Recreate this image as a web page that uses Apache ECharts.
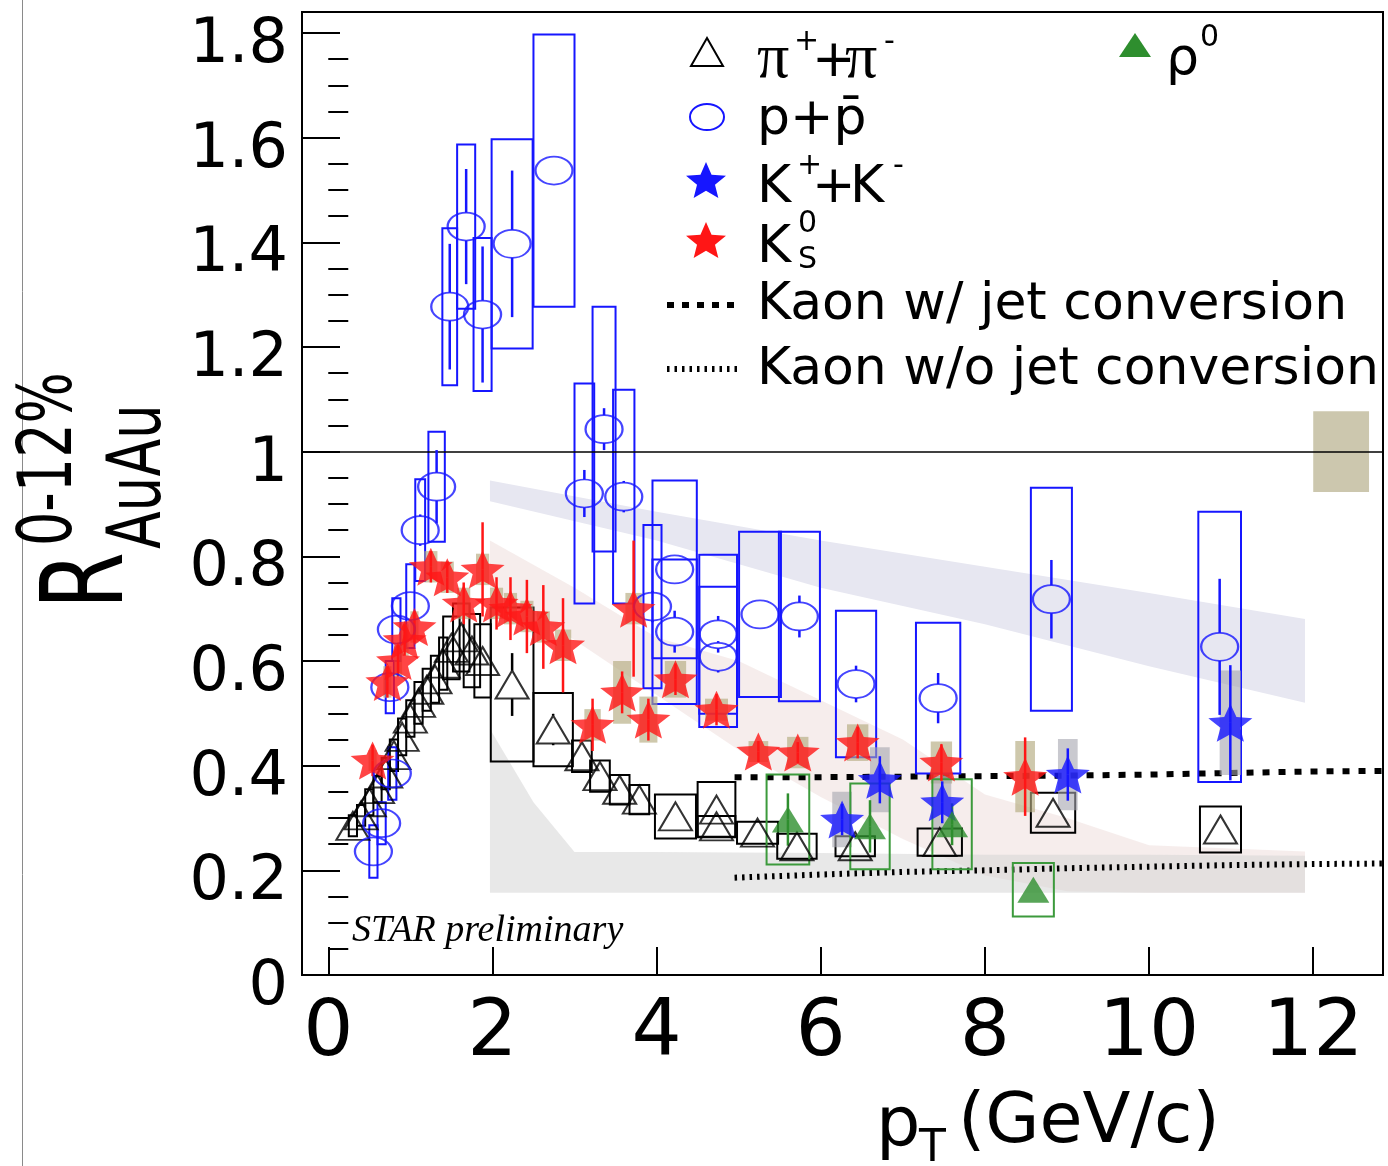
<!DOCTYPE html>
<html>
<head>
<meta charset="utf-8">
<script src="https://cdn.jsdelivr.net/npm/echarts@6/dist/echarts.min.js"></script>
<style>html,body{margin:0;padding:0;background:#fff;}#c{width:1388px;height:1166px;}</style>
</head>
<body>
<div id="c"></div>
<script>
// ================= DATA =================
const xTickVals = [0, 2, 4, 6, 8, 10, 12];
const yTickVals = [0, 0.2, 0.4, 0.6, 0.8, 1, 1.2, 1.4, 1.6, 1.8];

// pi+ + pi-  (open triangles, black open boxes)
const pionX    = [0.30,0.40,0.50,0.60,0.70,0.80,0.90,1.00,1.10,1.20,1.30,1.40,1.50,1.62,1.75,1.88,2.24,2.74,3.09,3.31,3.55,3.79,4.23,4.73,4.73,5.23,5.71,6.42,7.45,8.83,10.87];
const pionY    = [0.285,0.305,0.33,0.355,0.385,0.42,0.455,0.49,0.52,0.545,0.565,0.595,0.625,0.645,0.62,0.60,0.555,0.469,0.418,0.38,0.354,0.335,0.303,0.316,0.284,0.272,0.246,0.246,0.254,0.31,0.278];
const pionStat = [0.005,0.005,0.005,0.005,0.005,0.005,0.005,0.005,0.005,0.005,0.008,0.01,0.01,0.015,0.02,0.02,0.06,0.03,0.01,0.01,0.01,0.01,0.01,0.01,0.01,0.01,0.01,0.01,0.01,0.015,0.02];
const pionSys  = [0.02,0.02,0.025,0.025,0.03,0.03,0.035,0.035,0.04,0.04,0.045,0.05,0.06,0.065,0.07,0.07,0.147,0.07,0.03,0.03,0.028,0.028,0.042,0.053,0.02,0.021,0.024,0.019,0.026,0.038,0.044];
const pionBinHalf = [0.05,0.05,0.05,0.05,0.05,0.05,0.05,0.05,0.05,0.05,0.05,0.05,0.1,0.1,0.1,0.1,0.26,0.24,0.12,0.12,0.12,0.12,0.25,0.23,0.23,0.25,0.24,0.24,0.27,0.27,0.25];

// p + pbar (open circles, blue open boxes)
const protonX    = [0.55,0.65,0.78,0.75,0.83,1.0,1.12,1.32,1.48,1.68,1.88,2.24,2.75,3.12,3.36,3.6,3.95,4.22,4.22,4.75,4.75,5.26,5.74,6.43,7.43,8.81,10.86];
const protonY    = [0.236,0.29,0.385,0.55,0.66,0.705,0.85,0.933,1.277,1.43,1.262,1.397,1.537,0.92,1.043,0.914,0.704,0.775,0.656,0.651,0.608,0.689,0.685,0.556,0.529,0.718,0.627];
const protonStat = [0.015,0.015,0.02,0.02,0.02,0.02,0.03,0.07,0.12,0.11,0.13,0.14,0.02,0.045,0.04,0.03,0.03,0.02,0.04,0.035,0.03,0.02,0.04,0.035,0.048,0.075,0.13];
const protonSys  = [0.05,0.04,0.05,0.05,0.06,0.08,0.097,0.105,0.15,0.157,0.146,0.2,0.26,0.21,0.234,0.204,0.156,0.17,0.138,0.152,0.134,0.158,0.162,0.14,0.144,0.213,0.258];
const protonBinHalf = [0.05,0.05,0.05,0.05,0.05,0.05,0.06,0.1,0.09,0.11,0.11,0.25,0.25,0.12,0.14,0.13,0.11,0.27,0.27,0.23,0.23,0.255,0.25,0.245,0.27,0.25,0.26];

// K0S (red stars, tan filled boxes)
const k0sX    = [0.54,0.72,0.85,0.93,1.05,1.25,1.45,1.65,1.88,2.05,2.22,2.42,2.62,2.86,3.22,3.58,3.72,3.9,4.23,4.73,5.24,5.72,6.45,7.47,8.49];
const k0sY    = [0.41,0.56,0.60,0.64,0.665,0.78,0.76,0.71,0.775,0.71,0.70,0.685,0.665,0.63,0.478,0.54,0.70,0.488,0.565,0.507,0.427,0.425,0.444,0.406,0.379];
const k0sStat = [0.03,0.03,0.03,0.03,0.03,0.03,0.03,0.04,0.09,0.05,0.06,0.07,0.08,0.09,0.05,0.04,0.13,0.04,0.03,0.03,0.02,0.02,0.03,0.035,0.075];
const k0sSys  = [0.02,0.03,0.03,0.03,0.03,0.03,0.03,0.03,0.03,0.03,0.03,0.03,0.03,0.03,0.03,0.06,0.03,0.044,0.035,0.021,0.02,0.03,0.035,0.04,0.068];
const k0sBinHalf = [0.05,0.05,0.05,0.05,0.05,0.08,0.08,0.08,0.08,0.08,0.08,0.08,0.08,0.1,0.1,0.11,0.1,0.11,0.13,0.14,0.12,0.13,0.13,0.13,0.12];

// K+ + K- (blue stars, grey filled boxes)
const kchX    = [6.26,6.72,7.48,9.01,10.99];
const kchY    = [0.297,0.373,0.33,0.383,0.482];
const kchStat = [0.03,0.045,0.04,0.05,0.11];
const kchSys  = [0.053,0.062,0.05,0.068,0.1];
const kchBinHalf = [0.12,0.12,0.11,0.12,0.13];

// rho0 (green filled triangles, green open boxes)
const rhoX    = [5.6,6.6,7.6,8.59];
const rhoY    = [0.297,0.284,0.288,0.163];
const rhoStat = [0.05,0.05,0.04,0.0];
const rhoSys  = [0.086,0.082,0.086,0.051];
const rhoBinHalf = [0.26,0.24,0.24,0.25];

// theory bands
const blueBandX  = [1.97,4,6,8,10,11.9];
const blueBandLo = [0.905,0.83,0.74,0.67,0.59,0.52];
const blueBandHi = [0.945,0.885,0.83,0.78,0.73,0.68];
const pinkBandX  = [1.97,3,4,5,6,7,8,9,10,11.9];
const pinkBandLo = [0.74,0.64,0.535,0.43,0.34,0.26,0.19,0.16,0.157,0.157];
const pinkBandHi = [0.83,0.74,0.645,0.6,0.525,0.45,0.345,0.3,0.248,0.236];
const grayBandX  = [1.97,2.5,3.0,4,6,8,10,11.9];
const grayBandLo = [0.157,0.157,0.157,0.157,0.157,0.157,0.157,0.157];
const grayBandHi = [0.47,0.33,0.235,0.235,0.233,0.23,0.23,0.228];

// theory curves
const kaonCurveX   = [4.95,6,7,8,9,10,11,12,12.85];
const kaonJetY     = [0.378,0.378,0.379,0.38,0.381,0.383,0.386,0.389,0.39];
const kaonNoJetY   = [0.186,0.192,0.197,0.2,0.204,0.207,0.21,0.212,0.213];

// normalization uncertainty
const normX = [12.34], normY = [1], normErr = [0.077], normHalf = [0.34];

// ================= HELPERS =================
const BLUE = '#1616ff', RED = '#ff1616', GREEN = '#2e8e2e';
const STAR = 'path://M50,0 L63.23,31.8 L97.55,34.55 L71.4,56.95 L79.39,90.45 L50,72.5 L20.61,90.45 L28.6,56.95 L2.45,34.55 L36.77,31.8 Z';
const ELLIPSE = 'path://M1,0 A1,1 0 1 1 -1,0 A1,1 0 1 1 1,0 Z';

function zip(...arrs) { return arrs[0].map((_, i) => arrs.map(a => a[i])); }

function bandSeries(name, xs, lo, hi, color, z) {
  return {
    type: 'custom', name, z, silent: true, clip: true,
    data: zip(xs, lo, hi), encode: { x: 0, y: [1, 2] },
    renderItem: (params, api) => {
      if (params.dataIndex !== 0) return null;
      const pts = [];
      for (let i = 0; i < xs.length; i++) pts.push(api.coord([xs[i], hi[i]]));
      for (let i = xs.length - 1; i >= 0; i--) pts.push(api.coord([xs[i], lo[i]]));
      return { type: 'polygon', shape: { points: pts }, style: { fill: color } };
    }
  };
}
function boxSeries(name, xs, ys, sys, hw, style, z) {
  return {
    type: 'custom', name, z, silent: true, clip: true,
    data: zip(xs, ys, sys, hw), encode: { x: 0, y: 1 },
    renderItem: (params, api) => {
      const x = api.value(0), y = api.value(1), s = api.value(2), h = api.value(3);
      const a = api.coord([x - h, y + s]), b = api.coord([x + h, y - s]);
      return { type: 'rect', shape: { x: a[0], y: a[1], width: b[0] - a[0], height: b[1] - a[1] }, style: Object.assign({}, style) };
    }
  };
}
// vertical stat error bars; gap (px) leaves the marker interior free
function statSeries(name, xs, ys, err, color, z, gap) {
  return {
    type: 'custom', name, z, silent: true, clip: true,
    data: zip(xs, ys, err), encode: { x: 0, y: 1 },
    renderItem: (params, api) => {
      const x = api.value(0), y = api.value(1), e = api.value(2);
      const a = api.coord([x, y + e]), b = api.coord([x, y - e]), c = api.coord([x, y]);
      const st = { stroke: color, lineWidth: 2.5 };
      const kids = [];
      if (c[1] - gap > a[1]) kids.push({ type: 'line', shape: { x1: a[0], y1: a[1], x2: a[0], y2: c[1] - gap }, style: st });
      if (c[1] + gap < b[1]) kids.push({ type: 'line', shape: { x1: b[0], y1: c[1] + gap, x2: b[0], y2: b[1] }, style: st });
      return { type: 'group', children: kids };
    }
  };
}
function markerSeries(name, xs, ys, symbol, size, itemStyle, z) {
  return {
    type: 'scatter', name, z, silent: true, symbol, symbolSize: size,
    data: zip(xs, ys), itemStyle
  };
}

const yMinorVals = [];
for (let i = 1; i < 37; i++) { if (i % 4 !== 0) yMinorVals.push(+(i * 0.05).toFixed(2)); }

// ================= GRAPHIC (legend, titles) =================
function gtext(x, y, s, o) {
  o = o || {};
  const al = o.align || 'left', va = o.va || 'middle';
  return {
    type: 'text', x, y, rotation: o.rot || 0, scaleX: o.sx || 1, scaleY: o.sy || 1, z: 100, silent: true,
    style: {
      text: s, fontSize: o.size || 52, fontFamily: o.family || 'DejaVu Sans', fontStyle: o.fstyle || 'normal',
      fill: o.color || '#000', textAlign: al, textVerticalAlign: va, align: al, verticalAlign: va
    }
  };
}
function starPts(cx, cy, w, h) {
  const base = [[50,0],[63.23,31.8],[97.55,34.55],[71.4,56.95],[79.39,90.45],[50,72.5],[20.61,90.45],[28.6,56.95],[2.45,34.55],[36.77,31.8]];
  return base.map(p => [cx + (p[0] - 50) / 100 * w, cy + (p[1] - 45.2) / 90.45 * h]);
}
const graphics = [
  { type: 'line', z: 100, silent: true, shape: { x1: 22.5, y1: 0, x2: 22.5, y2: 1166 }, style: { stroke: '#8a8a8a', lineWidth: 1 } },
  // legend markers
  { type: 'polygon', z: 100, silent: true, shape: { points: [[707, 38], [723, 66], [691, 66]] }, style: { fill: 'none', stroke: '#000', lineWidth: 2 } },
  { type: 'ellipse', z: 100, silent: true, shape: { cx: 707, cy: 117, rx: 17, ry: 13 }, style: { fill: 'none', stroke: BLUE, lineWidth: 2 } },
  { type: 'polygon', z: 100, silent: true, shape: { points: starPts(706, 180, 42, 36) }, style: { fill: BLUE } },
  { type: 'polygon', z: 100, silent: true, shape: { points: starPts(706, 240, 42, 36) }, style: { fill: RED } },
  { type: 'line', z: 100, silent: true, shape: { x1: 667, y1: 305, x2: 740, y2: 305 }, style: { stroke: '#000', lineWidth: 6, lineDash: [7, 8] } },
  { type: 'line', z: 100, silent: true, shape: { x1: 667, y1: 369, x2: 740, y2: 369 }, style: { stroke: '#000', lineWidth: 6, lineDash: [2.5, 5] } },
  { type: 'polygon', z: 100, silent: true, shape: { points: [[1135, 33], [1151, 57], [1119, 57]] }, style: { fill: GREEN } },
  // legend texts
  gtext(757, 60, '\u03c0', { size: 64, family: 'Liberation Serif' }),
  gtext(794, 42, '+', { size: 30 }),
  gtext(812, 62, '+', { size: 52 }),
  gtext(845, 60, '\u03c0', { size: 64, family: 'Liberation Serif' }),
  gtext(884, 42, '-', { size: 30 }),
  gtext(1166, 60, '\u03c1', { size: 52 }),
  gtext(1200, 38, '0', { size: 30 }),
  gtext(757, 120, 'p+p\u0304', { size: 52 }),
  gtext(757, 188, 'K', { size: 52 }),
  gtext(797, 166, '+', { size: 30 }),
  gtext(812, 188, '+', { size: 52 }),
  gtext(850, 188, 'K', { size: 52 }),
  gtext(893, 166, '-', { size: 30 }),
  gtext(757, 248, 'K', { size: 52 }),
  gtext(798, 224, '0', { size: 30 }),
  gtext(798, 260, 'S', { size: 30 }),
  gtext(757, 305, 'Kaon w/ jet conversion', { size: 52 }),
  gtext(757, 370, 'Kaon w/o jet conversion', { size: 52 }),
  // STAR preliminary
  gtext(352, 931, 'STAR preliminary', { size: 38, family: 'Liberation Serif', fstyle: 'italic' }),
  // x axis title
  gtext(876, 1128, 'p', { size: 70 }),
  gtext(919, 1150, 'T', { size: 44 }),
  gtext(958, 1124, '(GeV/c)', { size: 70 }),
  // y axis title (rotated)
  gtext(92, 609, 'R', { size: 82, rot: Math.PI / 2, sy: 1.4 }),
  gtext(141, 549, 'AuAu', { size: 55, rot: Math.PI / 2, sy: 1.35 }),
  gtext(51, 546, '0-12%', { size: 54, rot: Math.PI / 2, sy: 1.4 })
];

// ================= OPTION =================
const option = {
  backgroundColor: '#ffffff',
  animation: false,
  grid: { left: 302, top: 12, width: 1081, height: 963, show: true, borderColor: '#000', borderWidth: 2, backgroundColor: 'rgba(0,0,0,0)' },
  xAxis: {
    type: 'value', min: -0.32, max: 12.85,
    axisLine: { show: true, onZero: false, lineStyle: { color: '#000', width: 2 } },
    axisTick: { show: true, inside: true, length: 28, customValues: xTickVals, lineStyle: { color: '#000', width: 2 } },
    axisLabel: { show: true, customValues: xTickVals, fontSize: 79, fontFamily: 'DejaVu Sans', color: '#000', margin: 20 },
    splitLine: { show: false }
  },
  yAxis: [
    {
      type: 'value', min: 0, max: 1.84,
      axisLine: { show: true, onZero: false, lineStyle: { color: '#000', width: 2 } },
      axisTick: { show: true, inside: true, length: 38, customValues: yTickVals, lineStyle: { color: '#000', width: 2 } },
      axisLabel: { show: true, customValues: yTickVals, fontSize: 62, fontFamily: 'DejaVu Sans', color: '#000', margin: 14, verticalAlign: 'top', lineHeight: 26, formatter: v => String(v) },
      splitLine: { show: false }
    },
    {
      type: 'value', min: 0, max: 1.84, position: 'left', offset: 0,
      axisLine: { show: false },
      axisTick: { show: true, inside: true, length: 20, customValues: yMinorVals, lineStyle: { color: '#000', width: 2 } },
      axisLabel: { show: false },
      splitLine: { show: false }
    }
  ],
  series: [
    bandSeries('theory p band', blueBandX, blueBandLo, blueBandHi, '#e7e7f1', 1),
    bandSeries('theory K band', pinkBandX, pinkBandLo, pinkBandHi, 'rgba(238,222,220,0.55)', 2),
    bandSeries('theory pi band', grayBandX, grayBandLo, grayBandHi, 'rgba(214,214,214,0.55)', 2),
    Object.assign(boxSeries('normalization', normX, normY, normErr, normHalf, { fill: '#ccc7ae' }, 2), {
      markLine: { silent: true, symbol: ['none', 'none'], label: { show: false }, lineStyle: { color: '#000', width: 1.5, type: 'solid' }, data: [{ yAxis: 1 }] }
    }),
    { type: 'line', name: 'Kaon w/ jet conversion', z: 3, silent: true, showSymbol: false, data: zip(kaonCurveX, kaonJetY), lineStyle: { color: '#000', width: 6, type: [7, 9] } },
    { type: 'line', name: 'Kaon w/o jet conversion', z: 3, silent: true, showSymbol: false, data: zip(kaonCurveX, kaonNoJetY), lineStyle: { color: '#000', width: 6, type: [2.5, 5] } },
    // systematic boxes
    boxSeries('pi sys', pionX, pionY, pionSys, pionBinHalf, { fill: 'none', stroke: '#000', lineWidth: 2 }, 4),
    boxSeries('p sys', protonX, protonY, protonSys, protonBinHalf, { fill: 'none', stroke: BLUE, lineWidth: 2 }, 4),
    boxSeries('K0S sys', k0sX, k0sY, k0sSys, k0sBinHalf, { fill: 'rgba(180,170,128,0.65)' }, 4),
    boxSeries('Kch sys', kchX, kchY, kchSys, kchBinHalf, { fill: 'rgba(165,165,175,0.6)' }, 4),
    boxSeries('rho sys', rhoX, rhoY, rhoSys, rhoBinHalf, { fill: 'none', stroke: '#3c9a3c', lineWidth: 2 }, 4),
    // statistical error bars
    statSeries('pi stat', pionX, pionY, pionStat, '#000', 5, 14),
    statSeries('p stat', protonX, protonY, protonStat, BLUE, 5, 14),
    statSeries('K0S stat', k0sX, k0sY, k0sStat, RED, 5, 0),
    statSeries('Kch stat', kchX, kchY, kchStat, BLUE, 5, 0),
    statSeries('rho stat', rhoX, rhoY, rhoStat, GREEN, 5, 0),
    // markers
    markerSeries('\u03c0\u207a+\u03c0\u207b', pionX, pionY, 'triangle', [33, 28], { color: 'rgba(0,0,0,0)', borderColor: '#000', borderWidth: 2 }, 6),
    markerSeries('p+p\u0304', protonX, protonY, ELLIPSE, [37, 28], { color: 'rgba(0,0,0,0)', borderColor: BLUE, borderWidth: 2 }, 6),
    markerSeries('K0S', k0sX, k0sY, STAR, [44, 38], { color: RED }, 7),
    markerSeries('K\u207a+K\u207b', kchX, kchY, STAR, [44, 38], { color: BLUE }, 8),
    markerSeries('\u03c1\u2070', rhoX, rhoY, 'triangle', [32, 26], { color: GREEN }, 9)
  ],
  graphic: graphics
};

const chart = echarts.init(document.getElementById('c'), null, { renderer: 'canvas', width: 1388, height: 1166 });
chart.setOption(option);
</script>
</body>
</html>
